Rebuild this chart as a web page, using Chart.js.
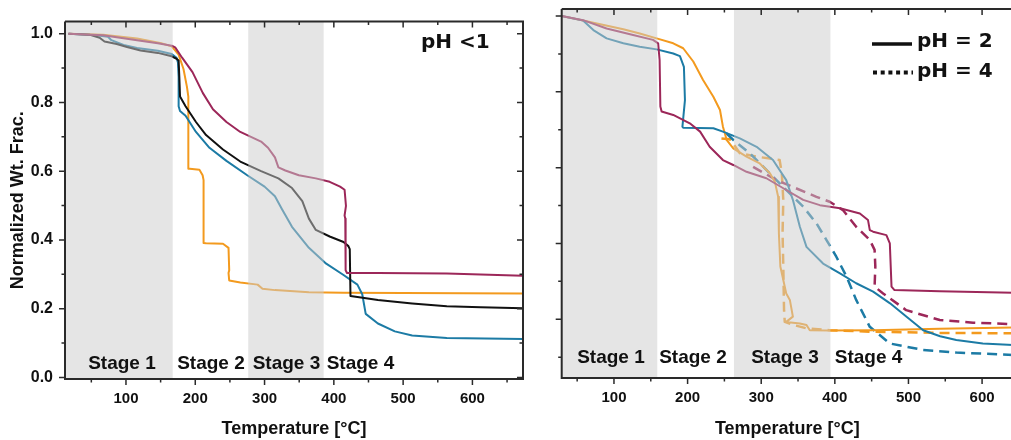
<!DOCTYPE html>
<html>
<head>
<meta charset="utf-8">
<script src="https://cdn.jsdelivr.net/npm/chart.js@4.4.1/dist/chart.umd.min.js"></script>
<style>
  html, body { margin: 0; padding: 0; background: #fff; overflow: hidden; width: 1011px; height: 440px; }
  #wrapL { position: absolute; left: 0; top: 0; width: 540px; height: 440px; }
  #wrapR { position: absolute; left: 540px; top: 0; width: 480px; height: 440px; }
</style>
</head>
<body>
<div id="wrapL"><canvas id="left" width="540" height="440"></canvas></div>
<div id="wrapR"><canvas id="right" width="480" height="440"></canvas></div>
<script>
// ---- pH < 1 (left panel): temperature [°C] and normalized weight fraction ----
const accBlackT = [17,47,62,69,86.6,101.5,121,146,166,173,176,177,178,186,201,215.6,240,265,295,320,339.6,354.5,364,374,394,414,421,423,424,444,463.6,513,563,612,673];
const accBlackW = [1.0,0.997,0.988,0.977,0.970,0.961,0.951,0.944,0.934,0.927,0.922,0.874,0.817,0.789,0.743,0.705,0.663,0.628,0.600,0.579,0.551,0.513,0.462,0.429,0.410,0.394,0.382,0.373,0.237,0.231,0.225,0.215,0.207,0.204,0.201];

const accPurpleT = [17,67,116,146,166,171,181,196,211,225.5,245,265,295,305,315,320,330,349.5,374,394,409,415.5,417.5,415.5,416.5,417,419,463.6,563,673];
const accPurpleW = [1.0,0.995,0.981,0.972,0.965,0.960,0.930,0.888,0.827,0.780,0.743,0.714,0.686,0.668,0.640,0.611,0.602,0.588,0.579,0.569,0.555,0.546,0.499,0.471,0.462,0.312,0.304,0.304,0.302,0.296];

const accOrangeT = [17,67,116,151,166,176,183,188,190,190,192,206,210.6,212,212,215.6,240,248,249,248,249,265,290,297,315,364,414,673];
const accOrangeW = [1.0,0.997,0.986,0.972,0.963,0.939,0.897,0.845,0.817,0.607,0.607,0.604,0.588,0.574,0.391,0.390,0.389,0.377,0.312,0.304,0.282,0.276,0.270,0.258,0.254,0.248,0.246,0.244];

const accTealT = [17,57,74,79,96.5,116,146,166,173,175,176,176,178,186,201,220.5,245,275,300,315,325,339.6,364,389,414,434,441,446,463.6,488,513,563,673];
const accTealW = [1.0,0.995,0.991,0.981,0.967,0.958,0.950,0.941,0.930,0.916,0.874,0.789,0.775,0.761,0.714,0.668,0.630,0.588,0.555,0.527,0.490,0.438,0.377,0.331,0.298,0.270,0.242,0.185,0.157,0.134,0.122,0.115,0.112];

// ---- pH = 2 (solid) and pH = 4 (dashed), right panel ----
const ph2PurpleT = [29,58,90,126,153,160,162,163,164.7,180.5,203,217,230,248,262,280,307,334,357,379.6,407,434,445,447.5,452,470,474.7,477,481,542.5,642];
const ph2PurpleW = [1.0,0.989,0.967,0.950,0.937,0.928,0.884,0.761,0.748,0.739,0.717,0.695,0.655,0.620,0.607,0.589,0.572,0.541,0.515,0.501,0.493,0.479,0.462,0.435,0.431,0.422,0.400,0.286,0.277,0.274,0.270];

const ph2TealT = [29,58,72,90,112.7,135,158,180.5,189.6,195,196.4,193,194,235,248,271,293.7,316,334,343,352.5,361.5,384,407,429,452,475,497,520,543,565,601,642];
const ph2TealW = [1.0,0.988,0.963,0.941,0.928,0.919,0.912,0.901,0.894,0.866,0.778,0.708,0.705,0.704,0.695,0.677,0.655,0.620,0.567,0.515,0.444,0.391,0.347,0.321,0.295,0.273,0.242,0.207,0.171,0.155,0.145,0.136,0.132];

const ph2OrangeT = [29,58,112.7,135,158,180.5,194,207.7,221,235,244,248,250.7,253,262,280,298,311.8,318.5,323,324,326,334,338.9,343,334,352.5,361.5,366,393,452,542.5,642];
const ph2OrangeW = [1.0,0.988,0.965,0.954,0.941,0.928,0.915,0.880,0.831,0.787,0.752,0.708,0.690,0.673,0.651,0.629,0.611,0.585,0.563,0.523,0.427,0.339,0.268,0.251,0.207,0.193,0.189,0.185,0.171,0.170,0.171,0.175,0.178];

const ph4OrangeT = [246,257.5,271,293.7,311.8,325,328,330,329,330,331,332,343.4,361.5,393,452,542.5,642];
const ph4OrangeW = [0.677,0.675,0.638,0.629,0.624,0.620,0.585,0.514,0.427,0.339,0.224,0.193,0.185,0.176,0.171,0.167,0.164,0.163];

const ph4TealT = [253,262,284.6,307,334,357,375,388.7,402,416,429,447.5,474.7,520,565,642];
const ph4TealW = [0.690,0.673,0.638,0.594,0.541,0.497,0.453,0.409,0.365,0.312,0.251,0.180,0.136,0.119,0.112,0.106];

const ph4PurpleT = [289,320.8,348,375,393,411,429,447.5,454,455,454,465.6,497,542.5,587.8,642];
const ph4PurpleW = [0.602,0.567,0.545,0.523,0.510,0.488,0.444,0.409,0.383,0.339,0.286,0.268,0.224,0.198,0.191,0.187];

// ---- tick values ----
const tempTicks = [100, 200, 300, 400, 500, 600];
const tempMinorTicks = [50, 150, 250, 350, 450, 550, 650];
const fracTicks = [0.0, 0.2, 0.4, 0.6, 0.8, 1.0];
const fracMinorTicks = [0.1, 0.3, 0.5, 0.7, 0.9];

const stageNames = ['Stage 1', 'Stage 2', 'Stage 3', 'Stage 4'];

// ---- styling ----
const C_PURPLE = '#9c2759';
const C_TEAL = '#1c7ba5';
const C_ORANGE = '#f39a1e';
const C_BLACK = '#111111';
const SANS = '"Liberation Sans", Arial, sans-serif';
const WIDE = '"DejaVu Sans", Verdana, sans-serif';

const pts = (t, w) => t.map((v, i) => ({ x: v, y: w[i] }));
const solid = (t, w, color) => ({ data: pts(t, w), borderColor: color, borderWidth: 2, fill: false });
const dashed = (t, w, color) => ({ data: pts(t, w), borderColor: color, borderWidth: 2.5, borderDash: [10, 6], fill: false });

// Shaded stage bands, frame, tick marks and annotations drawn over the curves
const panelDecor = {
  id: 'panelDecor',
  afterDatasetsDraw(chart, args, o) {
    const { ctx, chartArea: a, scales: { x, y } } = chart;
    ctx.save();
    ctx.fillStyle = 'rgba(204,204,204,0.5)';
    for (const [s, e] of o.bands) {
      const x0 = Math.max(x.getPixelForValue(s), a.left);
      const x1 = x.getPixelForValue(e);
      ctx.fillRect(x0, a.top, x1 - x0, a.bottom - a.top);
    }

    ctx.strokeStyle = '#2a2a2a';
    ctx.lineWidth = 2;
    ctx.beginPath();
    ctx.moveTo(a.left, a.top); ctx.lineTo(a.left, a.bottom); ctx.lineTo(a.right, a.bottom);
    ctx.moveTo(a.left, a.top); ctx.lineTo(a.right + 1, a.top);
    if (o.rightFrame) { ctx.moveTo(a.right, a.top); ctx.lineTo(a.right, a.bottom + 1); }
    ctx.stroke();

    ctx.lineWidth = 1.5;
    ctx.beginPath();
    const xTick = (v, len) => {
      const px = x.getPixelForValue(v);
      if (px < a.left || px > a.right) return;
      ctx.moveTo(px, a.bottom); ctx.lineTo(px, a.bottom + len);
      ctx.moveTo(px, a.top); ctx.lineTo(px, a.top + len);
    };
    const yTick = (v, len) => {
      const py = y.getPixelForValue(v);
      if (py < a.top || py > a.bottom + 1) return;
      ctx.moveTo(a.left, py); ctx.lineTo(a.left - len, py);
      if (o.rightFrame) { ctx.moveTo(a.right, py); ctx.lineTo(a.right - len, py); }
    };
    tempTicks.forEach(v => xTick(v, 6));
    tempMinorTicks.forEach(v => xTick(v, 3.5));
    o.yMajor.forEach(v => yTick(v, 6));
    o.yMinor.forEach(v => yTick(v, 3.5));
    ctx.stroke();

    ctx.fillStyle = '#111';
    ctx.font = 'bold 19px ' + SANS;
    ctx.textAlign = 'center';
    ctx.textBaseline = 'middle';
    o.stageLabelAt.forEach((xv, i) => {
      ctx.fillText(stageNames[i], x.getPixelForValue(xv), y.getPixelForValue(o.stageLabelY));
    });

    if (o.draw) o.draw(ctx, a);
    ctx.restore();
  }
};

function buildChart(id, datasets, opt) {
  return new Chart(document.getElementById(id), {
    type: 'line',
    data: { datasets },
    options: {
      responsive: false,
      animation: false,
      devicePixelRatio: 1,
      layout: { padding: { left: 0, right: opt.padRight, top: opt.padTop, bottom: 0 } },
      elements: { point: { radius: 0 }, line: { tension: 0, borderCapStyle: 'butt', borderJoinStyle: 'round' } },
      plugins: {
        legend: { display: false },
        tooltip: { enabled: false },
        panelDecor: opt.decor
      },
      scales: {
        x: {
          type: 'linear',
          min: opt.xMin, max: opt.xMax,
          grid: { display: false, drawTicks: false },
          border: { display: false },
          afterBuildTicks: s => { s.ticks = tempTicks.map(v => ({ value: v })); },
          afterFit: s => { s.height = 440 - opt.bottom; },
          ticks: { autoSkip: false, maxRotation: 0, padding: 11, color: '#111',
                   font: { family: SANS, size: 15, weight: 'bold' } },
          title: { display: true, text: 'Temperature [°C]', color: '#111',
                   font: { family: SANS, size: 18, weight: 'bold' }, padding: { top: 0, bottom: 0 } }
        },
        y: {
          type: 'linear',
          min: opt.yMin, max: opt.yMax,
          grid: { display: false, drawTicks: false },
          border: { display: false },
          afterBuildTicks: s => { s.ticks = fracTicks.map(v => ({ value: v })); },
          afterFit: s => { s.width = opt.yWidth; },
          ticks: { display: opt.yLabels, autoSkip: false, padding: 12, color: '#111',
                   font: { family: SANS, size: 16, weight: 'bold' },
                   callback: v => v.toFixed(1) },
          title: { display: opt.yLabels, text: 'Normalized Wt. Frac.', color: '#111',
                   font: { family: SANS, size: 18, weight: 'bold' }, padding: { top: 7, bottom: 0 } }
        }
      }
    },
    plugins: [panelDecor]
  });
}

// Left panel: pH < 1
buildChart('left', [
  solid(accPurpleT, accPurpleW, C_PURPLE),
  solid(accBlackT, accBlackW, C_BLACK),
  solid(accTealT, accTealW, C_TEAL),
  solid(accOrangeT, accOrangeW, C_ORANGE)
], {
  xMin: 12, xMax: 673, yMin: -0.0045, yMax: 1.035,
  padRight: 17, padTop: 10, bottom: 379, yWidth: 65, yLabels: true,
  decor: {
    bands: [[12, 167.4], [276.5, 385.3]],
    rightFrame: true,
    yMajor: fracTicks, yMinor: fracMinorTicks,
    stageLabelAt: [94.2, 222.7, 331.6, 438.4], stageLabelY: 0.0385,
    draw(ctx, a) {
      ctx.font = 'bold 20px ' + WIDE;
      ctx.textAlign = 'left';
      ctx.fillText('pH <1', 421, 43);
    }
  }
});

// Right panel: pH = 2 (solid) and pH = 4 (dashed)
buildChart('right', [
  solid(ph2PurpleT, ph2PurpleW, C_PURPLE),
  solid(ph2TealT, ph2TealW, C_TEAL),
  solid(ph2OrangeT, ph2OrangeW, C_ORANGE),
  dashed(ph4PurpleT, ph4PurpleW, C_PURPLE),
  dashed(ph4TealT, ph4TealW, C_TEAL),
  dashed(ph4OrangeT, ph4OrangeW, C_ORANGE)
], {
  xMin: 29, xMax: 642, yMin: 0.045, yMax: 1.0185,
  padRight: 7, padTop: 9, bottom: 378, yWidth: 21.7, yLabels: false,
  decor: {
    bands: [[29, 158.8], [263, 394]],
    rightFrame: false,
    yMajor: [1.0, 0.8, 0.6, 0.4, 0.2], yMinor: [0.9, 0.7, 0.5, 0.3, 0.1],
    stageLabelAt: [95.9, 207.3, 332.3, 445.8], stageLabelY: 0.0985,
    draw(ctx, a) {
      // key: solid = pH 2, dotted = pH 4
      ctx.strokeStyle = '#111';
      ctx.lineWidth = 3.5;
      ctx.beginPath(); ctx.moveTo(332, 44); ctx.lineTo(372, 44); ctx.stroke();
      ctx.setLineDash([4, 3.7]);
      ctx.lineWidth = 4;
      ctx.beginPath(); ctx.moveTo(333, 72.5); ctx.lineTo(373, 72.5); ctx.stroke();
      ctx.setLineDash([]);
      ctx.font = 'bold 20px ' + WIDE;
      ctx.textAlign = 'left';
      ctx.fillText('pH = 2', 377, 42);
      ctx.fillText('pH = 4', 377, 72);
    }
  }
});
</script>
</body>
</html>
